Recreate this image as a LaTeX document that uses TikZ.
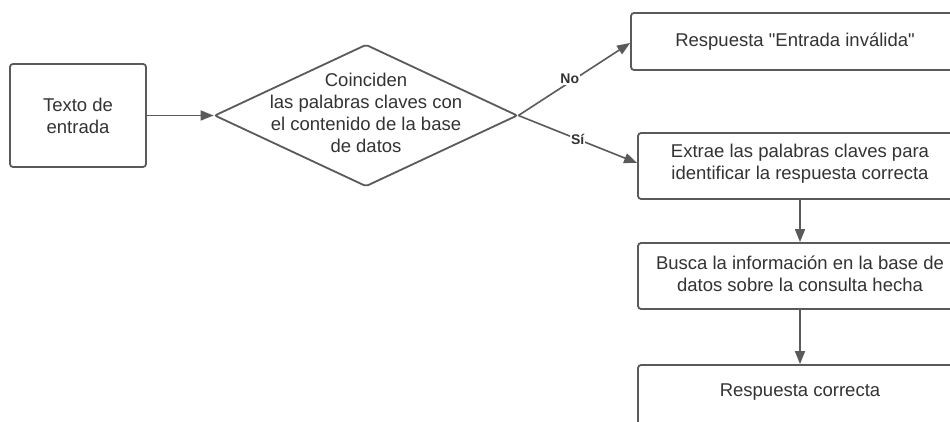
\documentclass[tikz,border=0pt]{standalone}
\usepackage{fontspec}
\setmainfont{Liberation Sans}[Ligatures=TeXOff]
\usetikzlibrary{arrows.meta,shapes.geometric}
\definecolor{ln}{HTML}{5A5A5A}
\definecolor{tx}{HTML}{333333}
\tikzset{
  box/.style={draw=ln, line width=1.8pt, rounded corners=3pt, fill=white, inner sep=0pt},
  txt/.style={text=tx, font=\fontsize{18.5}{22}\selectfont, align=center, inner sep=0pt},
  conn/.style={draw=ln, line width=1.6pt, -{Triangle[length=13pt,width=10pt]}},
  lab/.style={text=tx, font=\bfseries\fontsize{14}{16}\selectfont, fill=white, inner sep=1pt}
}
\begin{document}
\begin{tikzpicture}[x=1pt,y=-1pt]
\clip (0,0) rectangle (950,422);
\fill[white] (0,0) rectangle (950,422);
% boxes (coordinates in px, y downward)
\node[box, minimum width=136pt, minimum height=103pt] (in) at (78,115.5) {};
\node[txt] (intxt) at (in.center) {Texto de\\entrada};
\node[draw=ln, line width=1.8pt, shape=diamond, rounded corners=2pt, minimum width=303pt, minimum height=142pt, inner sep=0pt] (dec) at (366,115.5) {};
\node[txt] (dectxt) at (366,113) {Coinciden\\las palabras claves con\\el contenido de la base\\de datos};
\node[box, minimum width=328pt, minimum height=57pt] (inv) at (795,41.5) {};
\node[txt] (invtxt) at (795,41.5) {Respuesta "Entrada inválida"};
\node[box, minimum width=324pt, minimum height=66pt] (ext) at (800,166) {};
\node[txt] (exttxt) at (800,164) {Extrae las palabras claves para\\identificar la respuesta correcta};
\node[box, minimum width=324pt, minimum height=66pt] (bus) at (800,276) {};
\node[txt] (bustxt) at (800,274) {Busca la información en la base de\\datos sobre la consulta hecha};
\node[box, minimum width=324pt, minimum height=66pt] (cor) at (800,398) {};
\node[txt] (cortxt) at (800,392) {Respuesta correcta};
% connectors
\draw[conn] (in.east) -- (dec.west);
\draw[conn] (dec.east) -- (inv.west |- 0,43) node[lab, pos=0.46, yshift=3pt] (no) {No};
\draw[conn] (dec.east) -- (ext.west |- 0,163) node[lab, pos=0.5] (si) {Sí};
\draw[conn] (ext.south -| 800,0) -- (bus.north -| 800,0);
\draw[conn] (bus.south -| 800,0) -- (cor.north -| 800,0);
\end{tikzpicture}
\end{document}
